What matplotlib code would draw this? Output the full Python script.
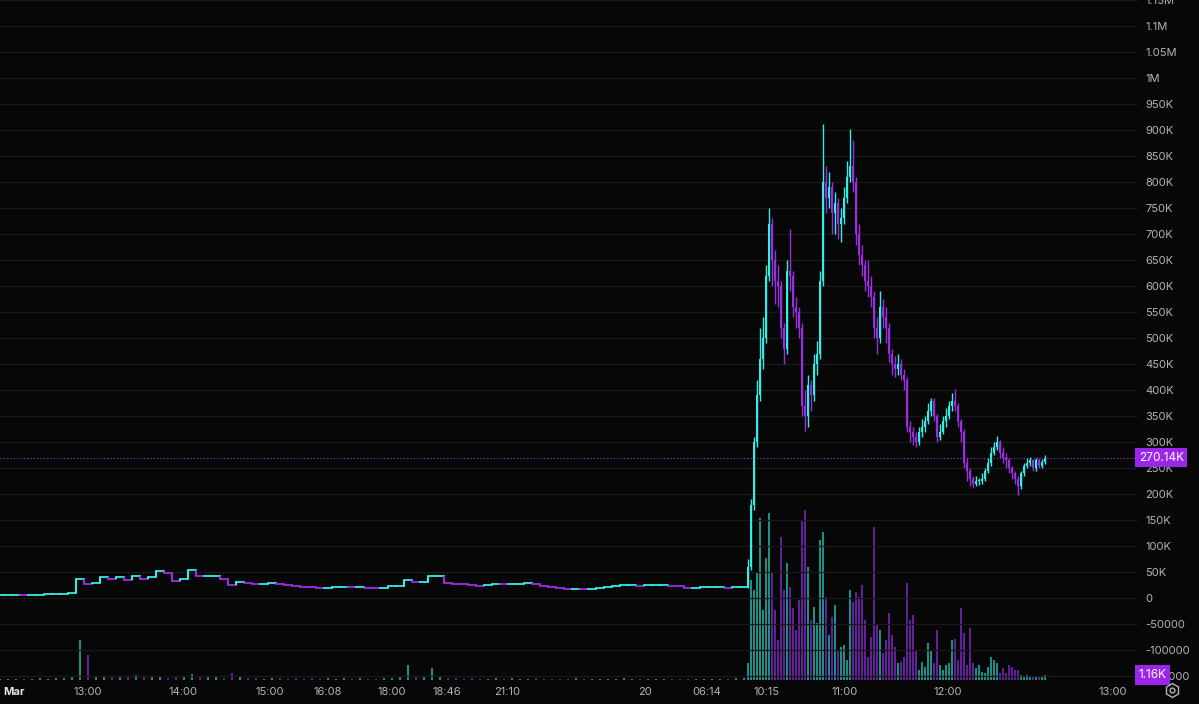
import numpy as np
import matplotlib
matplotlib.use('Agg')
import matplotlib.pyplot as plt
from matplotlib.lines import Line2D
from matplotlib.transforms import blended_transform_factory

plt.rcParams['font.family'] = ['Inter', 'DejaVu Sans']

# ---------------- data (prices and volumes in thousands) ----------------
pre_close = [7, 7, 7, 6.5, 6.5, 7, 7.5, 8, 9, 10,
             38, 27, 30, 40, 37, 40, 36, 42, 37, 40,
             53, 48, 34, 38, 54, 42, 42, 43, 38, 26,
             31, 29, 28, 28, 29, 28, 26, 24, 22, 21,
             19, 20, 21, 22, 21, 22, 20, 19, 20, 23,
             24, 35, 31, 31, 42, 43, 29, 28, 27, 25,
             23, 26, 28, 27, 27, 28, 29, 28, 24, 22,
             20, 18, 18, 17, 18, 19, 21, 23, 25, 25,
             24, 25, 25, 25, 24, 23, 20, 20, 21, 21,
             21, 20, 21, 22]
pre_volume = [0.3, 0.2, 0.3, 0.2, 0.3, 0.4, 0.3, 0.5, 0.4, 0.6,
              9.3, 5.8, 1.0, 0.8, 0.6, 0.9, 0.7, 1.2, 0.9, 0.6,
              0.8, 0.5, 0.7, 0.9, 1.4, 0.8, 0.6, 0.7, 0.5, 1.7,
              0.6, 0.5, 0.4, 0.3, 0.5, 0.4, 0.3, 0.4, 0.3, 0.5,
              0.3, 0.4, 0.3, 0.4, 0.3, 0.4, 0.3, 0.3, 0.4, 0.5,
              0.6, 3.5, 0.8, 0.6, 2.8, 0.9, 0.5, 0.4, 0.3, 0.4,
              0.3, 0.3, 0.4, 0.3, 0.4, 0.3, 0.3, 0.4, 0.3, 0.3,
              0.2, 0.3, 0.4, 0.3, 0.3, 0.2, 0.3, 0.3, 0.4, 0.3,
              0.3, 0.2, 0.3, 0.3, 0.2, 0.3, 0.3, 0.2, 0.3, 0.3,
              0.2, 0.3, 0.4, 0.5]

spike_close = [60, 180, 300, 390, 460, 500, 620, 720, 650, 610,
               600, 520, 480, 630, 620, 560, 550, 520, 370, 350,
               410, 390, 450, 470, 610, 800, 770, 790, 740, 760,
               720, 730, 770, 810, 830, 800, 700, 660, 640, 610,
               600, 580, 520, 500, 560, 540, 520, 470, 450, 440,
               450, 430, 420, 330, 320, 310, 300, 320, 330, 340,
               360, 380, 350, 310, 320, 340, 350, 370, 380, 370,
               340, 320, 260, 245, 230, 220, 225, 225, 230, 245,
               260, 280, 290, 300, 280, 270, 265, 250, 240, 230,
               215, 240, 255, 260, 265, 250, 265, 255, 262, 270.14]
spike_high = [75, 190, 310, 420, 520, 540, 640, 750, 730, 670,
              640, 610, 530, 650, 710, 630, 580, 560, 530, 400,
              430, 420, 470, 495, 630, 912, 830, 820, 800, 780,
              770, 750, 790, 840, 902, 880, 810, 720, 680, 650,
              650, 620, 590, 540, 590, 575, 560, 530, 480, 465,
              470, 460, 440, 425, 340, 330, 320, 330, 345, 350,
              375, 385, 385, 355, 335, 350, 365, 380, 395, 402,
              375, 345, 325, 270, 250, 235, 235, 232, 240, 250,
              270, 290, 300, 312, 305, 290, 280, 270, 255, 245,
              235, 245, 260, 270, 272, 268, 270, 270, 268, 275]
spike_low = [20, 55, 170, 290, 380, 440, 490, 610, 600, 565,
             560, 500, 450, 470, 590, 540, 520, 500, 350, 322,
             330, 360, 380, 430, 460, 600, 740, 750, 700, 700,
             690, 685, 720, 760, 800, 780, 680, 640, 620, 590,
             580, 560, 500, 470, 490, 520, 490, 455, 430, 425,
             430, 420, 400, 320, 300, 295, 290, 295, 310, 320,
             335, 350, 340, 300, 305, 315, 330, 345, 360, 360,
             330, 300, 250, 225, 215, 212, 215, 218, 220, 225,
             240, 255, 275, 285, 270, 260, 250, 240, 230, 220,
             198, 210, 235, 250, 255, 245, 245, 250, 250, 258]
spike_volume = [3.9, 23.2, 20.9, 24.8, 37.6, 16.2, 28.3, 38.7, 25.1, 16.2,
                9.3, 33.2, 20.9, 27.1, 21.6, 16.7, 11.6, 18.6, 37.1, 39.4,
                26.2, 13.9, 16.9, 13.2, 32.5, 34.3, 19.3, 10.4, 14.6, 17.4,
                7.0, 7.7, 8.1, 4.6, 20.9, 18.1, 20.4, 19.3, 22.0, 13.9,
                5.3, 10.0, 35.5, 12.8, 11.6, 6.3, 9.3, 15.5, 10.4, 7.7,
                3.9, 4.2, 5.3, 22.5, 13.9, 15.1, 7.0, 2.3, 4.2, 3.0,
                8.6, 7.0, 3.9, 11.6, 3.5, 2.3, 3.5, 3.9, 9.3, 9.5,
                4.6, 16.7, 10.9, 3.5, 12.1, 3.9, 2.8, 3.5, 1.9, 1.6,
                3.0, 5.3, 4.6, 3.9, 1.6, 2.8, 1.6, 3.5, 3.0, 2.3,
                2.3, 1.2, 0.9, 1.2, 0.7, 0.9, 0.7, 0.9, 0.7, 1.16]

last_price = 270.14
last_volume = 1.16
price_ticks = list(range(-150, 1151, 50))
time_labels = ['Mar', '13:00', '14:00', '15:00', '16:08', '18:00', '18:46',
               '21:10', '20', '06:14', '10:15', '11:00', '12:00', '13:00']

assert len(pre_close) == len(pre_volume)
assert len(spike_close) == len(spike_high) == len(spike_low) == len(spike_volume)

# ---------------- styling / layout ----------------
W, H = 1199, 704
BG = '#070707'
UP = '#33eee4'
DOWN = '#9b2de3'
VUP = '#1a9089'
VDOWN = '#62209a'
GRID = '#191919'
TXT = '#b2b5be'
LABEL_BG = '#9b26ea'

# horizontal layout of the two sessions (pixel-like x units)
PRE_STEP = 8.0
pre_x = np.arange(len(pre_close)) * PRE_STEP
spike_x = 748 + np.arange(len(spike_close)) * 3.0
tick_pos = [14, 88, 183, 270, 328, 392, 447, 507, 645, 707, 766, 845, 948, 1113]

fig = plt.figure(figsize=(W / 100, H / 100), dpi=100, facecolor=BG)
rect = [0, 24 / H, 1137 / W, 680 / H]
ax_v = fig.add_axes(rect, facecolor=BG)
ax = fig.add_axes(rect, sharex=ax_v)
ax.patch.set_alpha(0)

# ---- volume ----
closes_all = pre_close + spike_close
opens_all = [pre_close[0]] + closes_all[:-1]
pre_open = opens_all[:len(pre_close)]
spike_open = opens_all[len(pre_close):]

pre_vcol = [VUP if c >= o else VDOWN for o, c in zip(pre_open, pre_close)]
spike_vcol = [VUP if c >= o else VDOWN for o, c in zip(spike_open, spike_close)]
ax_v.bar(pre_x, pre_volume, width=1.6, color=pre_vcol, linewidth=0)
ax_v.bar(spike_x, spike_volume, width=1.9, color=spike_vcol, linewidth=0)
ax_v.set_ylim(0, max(spike_volume) * 4)
ax_v.axis('off')

# ---- price grid ----
for t in price_ticks:
    ax.axhline(t, color=GRID, lw=0.9, zorder=0)

# ---- pre-spike candles: densely packed, drawn as thin step segments ----
for x, o, c in zip(pre_x, pre_open, pre_close):
    col = UP if c >= o else DOWN
    x0 = x - PRE_STEP / 2
    ax.plot([x0, x0], [o, c], color=col, lw=1.5, solid_capstyle='butt', zorder=3)
    ax.plot([x0, x0 + PRE_STEP], [c, c], color=col, lw=1.3,
            solid_capstyle='projecting', zorder=3)

# ---- spike candles ----
for x, o, c, hi, lo in zip(spike_x, spike_open, spike_close, spike_high, spike_low):
    col = UP if c >= o else DOWN
    ax.vlines(x, lo, hi, color=col, lw=1.0, zorder=3)
    b = min(o, c)
    h = max(abs(c - o), 2.0)
    ax.bar(x, h, bottom=b, width=2.6, color=col, linewidth=0, zorder=4)

# ---- last price line ----
ax.axhline(last_price, color=DOWN, lw=0.8, ls=(0, (1, 2)), zorder=2)

ax.set_xlim(0, 1137)
ax.set_ylim(-157.1, 1145.6)


def fmt(v):
    if v >= 1000:
        return f"{v / 1000:g}M"
    if v > 0:
        return f"{v:g}K"
    if v == 0:
        return "0"
    return f"{int(v * 1000)}"


ax.yaxis.tick_right()
ax.set_yticks(price_ticks)
ax.set_yticklabels([fmt(v) for v in price_ticks])
ax.tick_params(axis='y', length=0, pad=6, labelcolor=TXT, labelsize=8)
ax.set_xticks(tick_pos)
ax.set_xticklabels(time_labels)
ax.tick_params(axis='x', length=0, pad=5, labelcolor=TXT, labelsize=8)
xl = ax.get_xticklabels()
xl[0].set_color('#e6e6e6')
xl[0].set_fontweight('bold')
for s in ax.spines.values():
    s.set_visible(False)

# ---- right-hand value labels ----
ax.text(1.0015, last_price, f"{last_price:.2f}K", transform=ax.get_yaxis_transform(),
        color='white', fontsize=8.5, va='center', ha='left', clip_on=False, zorder=10,
        bbox=dict(boxstyle='square,pad=0.3', fc=LABEL_BG, ec='none'))
vt = blended_transform_factory(ax.transAxes, ax_v.transData)
ax.text(1.0015, last_volume, f"{last_volume:.2f}K", transform=vt,
        color='white', fontsize=8.5, va='center', ha='left', clip_on=False, zorder=10,
        bbox=dict(boxstyle='square,pad=0.3', fc=LABEL_BG, ec='none'))

# settings icon
fig.add_artist(Line2D([1172 / W], [1 - 690 / H], marker='h', ms=10, mfc='none',
                      mec=TXT, mew=1.0, transform=fig.transFigure))
fig.add_artist(Line2D([1172 / W], [1 - 690 / H], marker='o', ms=3.5, mfc='none',
                      mec=TXT, mew=1.0, transform=fig.transFigure))

fig.savefig('out.png', dpi=100, facecolor=BG)
